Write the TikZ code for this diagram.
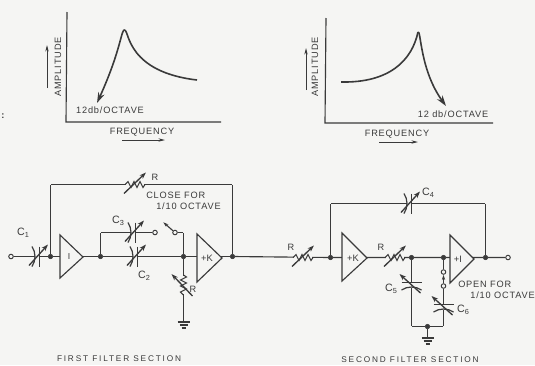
\documentclass[tikz,border=0pt]{standalone}
\usepackage{fontspec}
\setmainfont{Liberation Sans}
\newfontfamily\widefont[LetterSpace=9]{Liberation Sans}
\newfontfamily\sectfont[LetterSpace=22]{Liberation Sans}
\usetikzlibrary{arrows.meta}
\definecolor{ink}{HTML}{3A3A3A}
\definecolor{paper}{HTML}{F5F5F3}
\tikzset{
  x=0.75pt,y=-0.75pt,
  wire/.style={draw=ink,line width=0.85pt},
  curve/.style={draw=ink,line width=1.2pt},
  tipped/.style={curve,-{Stealth[length=8pt,width=5pt]}},
  small arrow/.style={draw=ink,line width=0.6pt,-{Stealth[length=5pt,width=2.5pt]}},
  amp/.style={wire,fill=paper,line join=miter},
  lab/.style={font=\fontsize{6.9}{8}\selectfont\widefont,text=ink,inner sep=0pt},
  sect/.style={font=\fontsize{6.2}{7}\selectfont\sectfont,text=ink,inner sep=0pt},
  clab/.style={font=\fontsize{8}{9}\selectfont,text=ink,inner sep=0pt},
  dot/.style={circle,fill=ink,draw=ink,minimum size=3.4pt,inner sep=0pt},
  open/.style={circle,fill=paper,draw=ink,line width=0.7pt,minimum size=3.4pt,inner sep=0pt},
  pt/.style={inner sep=0pt,minimum size=0pt},
  varcap/.pic={
    \fill[paper] (-2.5,-8) rectangle (2.5,8);
    \draw[ink,line width=0.9pt] (2.2,-10) -- (2.2,10);
    \draw[ink,line width=0.9pt] (-5,-10) .. controls (-1,-4) and (-1,4) .. (-5,10);
    \draw[ink,line width=1pt,-{Stealth[length=5pt,width=3.5pt]}] (-8,9) -- (11,-12);
  },
  varres/.pic={
    \fill[paper] (-9,-3) rectangle (9,3);
    \draw[ink,line width=0.8pt] (-10,0) -- (-7,-3) -- (-4,3) -- (-1,-3) -- (2,3) -- (5,-3) -- (8,3) -- (10,0);
    \draw[ink,line width=1pt,-{Stealth[length=5pt,width=3.5pt]}] (-11,9) -- (11,-12);
  },
  earth/.pic={
    \draw[ink,line width=0.8pt] (-6,0) -- (6,0) (-4,3) -- (4,3) (-2,6) -- (2,6);
  }
}
\begin{document}
\begin{tikzpicture}
\useasboundingbox (0,0) rectangle (535,365);
\fill[paper] (0,0) rectangle (535,365);

% left graph
\coordinate (la) at (67,12); \coordinate (lo) at (66,122); \coordinate (lb) at (221,122);
\draw[wire] (la) -- (lo) -- (lb);
\coordinate (lpk) at (125,30);
\draw[tipped] (lpk) .. controls (121,28) and (122,48) .. (97,103);
\draw[curve] (lpk) .. controls (129,32) and (128,72) .. (197,80);
\node[lab,rotate=90] (lamp) at (58,67) {AMPLITUDE};
\coordinate (lamp0) at (47,88); \coordinate (lamp1) at (47,45);
\draw[small arrow] (lamp0) -- (lamp1);
\node[lab] (lfreq) at (142,132) {FREQUENCY};
\coordinate (lf0) at (122,140); \coordinate (lf1) at (165,140);
\draw[small arrow] (lf0) -- (lf1);
\node[lab] (lslope) at (110,110) {12db/OCTAVE};

% right graph
\coordinate (ra) at (326,18); \coordinate (ro) at (325,123); \coordinate (rb) at (493,123);
\draw[wire] (ra) -- (ro) -- (rb);
\coordinate (rpk) at (418,32);
\draw[curve] (341,82) .. controls (390,83) and (412,60) .. (rpk);
\draw[tipped] (rpk) .. controls (421,30) and (420,70) .. (446,106);
\node[lab,rotate=90] (ramp) at (315,67) {AMPLITUDE};
\coordinate (ramp0) at (306,90); \coordinate (ramp1) at (306,48);
\draw[small arrow] (ramp0) -- (ramp1);
\node[lab] (rfreq) at (397,134) {FREQUENCY};
\coordinate (rf0) at (379,142); \coordinate (rf1) at (418,142);
\draw[small arrow] (rf0) -- (rf1);
\node[lab] (rslope) at (453,114) {12 db/OCTAVE};

\node[lab,font=\bfseries\fontsize{7}{8}\selectfont] (mark) at (3,116) {:};

% first section nodes
\node[open] (in) at (11,256.5) {};
\node[dot] (d1) at (50.5,256.5) {};
\node[dot] (d2) at (100.5,256.5) {};
\node[dot] (d3) at (183.5,256.5) {};
\node[dot] (d4) at (232.5,256.5) {};
\node[pt] (tl1) at (50.5,184.5) {};
\node[pt] (tr1) at (232.5,184.5) {};
\node[pt] (b1) at (100.5,232.5) {};
\node[open] (c3end) at (155,232.5) {};
\node[pt] (swtip) at (163,222) {};
\node[open] (swc) at (175,232.5) {};
\node[pt] (swb) at (183.5,232.5) {};
\node[pt] (g1) at (183.5,322) {};

\draw[wire] (in) -- (d1) -- (d2) -- (d3) -- (d4);
\draw[wire] (d1) -- (tl1) -- (tr1) -- (d4);
\draw[wire] (d2) -- (b1) -- (c3end);
\draw[wire] (swc) -- (swb) -- (d3);
\draw[wire] (d3) -- (g1);
\draw[wire,-{Stealth[length=4pt,width=2.5pt]}] (swc) -- (swtip);

\draw[amp] (60,235) -- (83,257) -- (60,278) -- cycle;
\node[clab,font=\fontsize{6.5}{7}\selectfont] (t1) at (69,257) {I};
\draw[amp] (197,234) -- (222,258) -- (197,282) -- cycle;
\node[clab,font=\fontsize{7}{8}\selectfont] (t2) at (207,258) {+K};

\pic at (37,256.5) {varcap};
\pic at (133,232.5) {varcap};
\pic at (135,256.5) {varcap};
\pic at (135,184.5) {varres};
\pic[rotate=90] at (183.5,285) {varres};
\pic at (183.5,322) {earth};

\node[clab] (lc1) at (23,233) {C\kern0.1pt\raisebox{-1.5pt}{\fontsize{5.5}{6}\selectfont 1}};
\node[lab] (lr1) at (155,177) {R};
\node[lab,anchor=west] (lclose) at (146,195) {CLOSE FOR};
\node[lab,anchor=west] (loct) at (156,206) {1/10 OCTAVE};
\node[clab] (lc3) at (118,221) {C\kern0.1pt\raisebox{-1.5pt}{\fontsize{5.5}{6}\selectfont 3}};
\node[clab] (lc2) at (144,276) {C\kern0.1pt\raisebox{-1.5pt}{\fontsize{5.5}{6}\selectfont 2}};
\node[lab] (lr2) at (193,289) {R};
\node[sect] (sec1) at (119,359) {FIRST FILTER SECTION};

% second section nodes
\node[dot] (d5) at (330.5,257.5) {};
\node[dot] (d6) at (411.5,257.5) {};
\node[dot] (d7) at (443.5,257.5) {};
\node[dot] (d8) at (485.5,257.5) {};
\node[open] (out) at (508,257.5) {};
\node[pt] (tl2) at (330.5,203.5) {};
\node[pt] (tr2) at (485.5,203.5) {};
\node[open] (sw1) at (443.5,272) {};
\node[open] (sw2) at (443.5,286) {};
\node[pt] (bl) at (411.5,326.5) {};
\node[pt] (br) at (443.5,326.5) {};
\node[dot] (d9) at (427.5,326.5) {};
\node[pt] (g2) at (427.5,338) {};

\draw[wire] (d4) -- (d5) -- (d6) -- (d7) -- (d8) -- (out);
\draw[wire] (d5) -- (tl2) -- (tr2) -- (d8);
\draw[wire] (d6) -- (bl) -- (d9) -- (br) -- (sw2);
\draw[wire] (d7) -- (sw1);
\draw[wire] (d9) -- (g2);
\draw[wire,{Stealth[length=4pt,width=2.5pt]}-] (sw1) -- (sw2);

\draw[amp] (342,233) -- (367,258) -- (342,281) -- cycle;
\node[clab,font=\fontsize{7}{8}\selectfont] (t3) at (353,258) {+K};
\draw[amp] (450,235) -- (474,259) -- (450,283) -- cycle;
\node[clab,font=\fontsize{7}{8}\selectfont] (t4) at (458,259) {+I};

\pic at (303,257.5) {varres};
\pic at (395,257.5) {varres};
\pic at (409,203.5) {varcap};
\pic[rotate=90] at (411.5,285) {varcap};
\pic[rotate=90] at (443.5,307) {varcap};
\pic at (427.5,338) {earth};

\node[lab] (lr3) at (291,247) {R};
\node[lab] (lr4) at (381,247) {R};
\node[clab] (lc4) at (428,193) {C\kern0.1pt\raisebox{-1.5pt}{\fontsize{5.5}{6}\selectfont 4}};
\node[clab] (lc5) at (391,289) {C\kern0.1pt\raisebox{-1.5pt}{\fontsize{5.5}{6}\selectfont 5}};
\node[clab] (lc6) at (463,310) {C\kern0.1pt\raisebox{-1.5pt}{\fontsize{5.5}{6}\selectfont 6}};
\node[lab,anchor=west] (lopen) at (458,284) {OPEN FOR};
\node[lab,anchor=east] (loct2) at (535,295) {1/10 OCTAVE};
\node[sect] (sec2) at (410,360) {SECOND FILTER SECTION};
\end{tikzpicture}
\end{document}
